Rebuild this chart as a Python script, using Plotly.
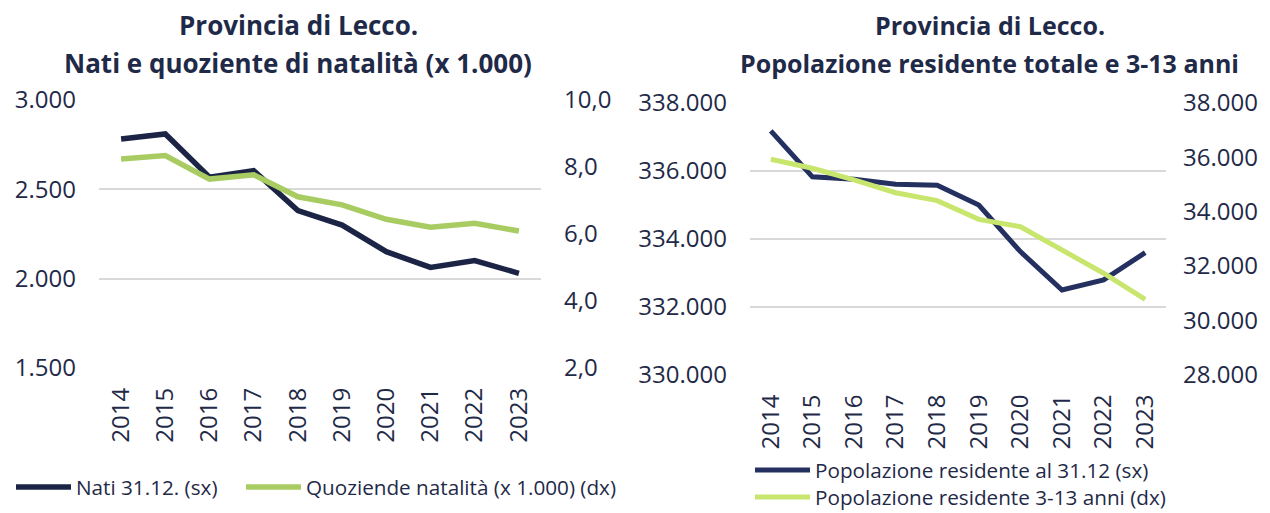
import plotly.graph_objects as go

years = ["2014", "2015", "2016", "2017", "2018", "2019", "2020", "2021", "2022", "2023"]
nati = [2782, 2810, 2568, 2605, 2381, 2300, 2151, 2063, 2101, 2030]
quoziente = [8.24, 8.34, 7.64, 7.77, 7.11, 6.87, 6.44, 6.20, 6.32, 6.09]
pop_tot = [337170, 335820, 335750, 335600, 335570, 334990, 333620, 332490, 332790, 333590]
pop_3_13 = [35920, 35590, 35160, 34690, 34400, 33710, 33440, 32590, 31730, 30770]

left_ticks = [1500, 2000, 2500, 3000]
left_ticktext = ["1.500", "2.000", "2.500", "3.000"]
left2_ticks = [2, 4, 6, 8, 10]
left2_ticktext = ["2,0", "4,0", "6,0", "8,0", "10,0"]
right_ticks = [330000, 332000, 334000, 336000, 338000]
right_ticktext = ["330.000", "332.000", "334.000", "336.000", "338.000"]
right2_ticks = [28000, 30000, 32000, 34000, 36000, 38000]
right2_ticktext = ["28.000", "30.000", "32.000", "34.000", "36.000", "38.000"]

NAVY = "#1b2445"
NAVY2 = "#243060"
GREEN1 = "#a8cc62"
GREEN2 = "#c8e66e"
TXT = "#1f2a48"
GRID = "#d9d9d9"
FONT = "Open Sans"
W, H = 1270, 513

fig = go.Figure()
fig.add_trace(go.Scatter(x=years, y=nati, name="Nati 31.12. (sx)", mode="lines",
                         line=dict(color=NAVY, width=5.5), xaxis="x", yaxis="y", legend="legend"))
fig.add_trace(go.Scatter(x=years, y=quoziente, name="Quoziende natalità (x 1.000) (dx)", mode="lines",
                         line=dict(color=GREEN1, width=5.5), xaxis="x", yaxis="y2", legend="legend3"))
fig.add_trace(go.Scatter(x=years, y=pop_tot, name="Popolazione residente al 31.12 (sx)", mode="lines",
                         line=dict(color=NAVY2, width=5), xaxis="x2", yaxis="y3", legend="legend2"))
fig.add_trace(go.Scatter(x=years, y=pop_3_13, name="Popolazione residente 3-13 anni (dx)", mode="lines",
                         line=dict(color=GREEN2, width=5), xaxis="x2", yaxis="y4", legend="legend4"))


def px_x(p):
    return p / W


def px_y(p):
    return 1 - p / H


tickfont = dict(family=FONT, size=24, color=TXT)
xfont = dict(family=FONT, size=24, color=TXT)

ld = [px_x(99), px_x(541)]
rd = [px_x(750), px_x(1166)]
lyd = [px_y(368), px_y(100)]
ryd = [px_y(374.7), px_y(102.7)]

common_y = dict(zeroline=False, showline=False, ticks="", automargin=False, tickfont=tickfont)
common_x = dict(type="category", range=[-0.5, 9.5], tickangle=-90, tickfont=xfont, showgrid=False,
                showline=False, ticks="", automargin=False, zeroline=False)

legfont = dict(family=FONT, size=20.7, color=TXT)
ITEMW = 55


def leg(line_start, ypx):
    return dict(x=px_x(line_start - 5), y=px_y(ypx), xanchor="left", yanchor="middle", orientation="h",
                font=legfont, bgcolor="rgba(0,0,0,0)", borderwidth=0, itemwidth=ITEMW)


fig.update_layout(
    width=W, height=H,
    margin=dict(l=0, r=0, t=0, b=0, autoexpand=False),
    paper_bgcolor="white", plot_bgcolor="white",
    font=dict(family=FONT, color=TXT),
    xaxis=dict(domain=ld, anchor="y", ticklabelstandoff=14, **common_x),
    yaxis=dict(domain=lyd, anchor="x", range=[1500, 3000], tickvals=left_ticks, ticktext=left_ticktext,
               showgrid=True, gridcolor=GRID, gridwidth=2, ticklabelstandoff=22, **common_y),
    yaxis2=dict(domain=lyd, anchor="x", overlaying="y", side="right", range=[2, 10],
                tickvals=left2_ticks, ticktext=left2_ticktext, showgrid=False, ticklabelstandoff=22, **common_y),
    xaxis2=dict(domain=rd, anchor="y3", ticklabelstandoff=14, **common_x),
    yaxis3=dict(domain=ryd, anchor="x2", range=[330000, 338000], tickvals=right_ticks, ticktext=right_ticktext,
                showgrid=True, gridcolor=GRID, gridwidth=2, ticklabelstandoff=22, **common_y),
    yaxis4=dict(domain=ryd, anchor="x2", overlaying="y3", side="right", range=[28000, 38000],
                tickvals=right2_ticks, ticktext=right2_ticktext, showgrid=False, ticklabelstandoff=16, **common_y),
    legend=leg(16, 487),
    legend3=leg(246, 487),
    legend2=leg(755, 470),
    legend4=leg(755, 497),
    showlegend=True,
)

for cx, size, lines in [(298, 26, ["Provincia di Lecco.", "Nati e quoziente di natalità (x 1.000)"]),
                        (990, 25, ["Provincia di Lecco.", "Popolazione residente totale e 3-13 anni"])]:
    for ty, t in zip([25, 63], lines):
        fig.add_annotation(x=px_x(cx), y=px_y(ty), xref="paper", yref="paper", showarrow=False,
                           text="<b>" + t + "</b>", font=dict(family=FONT, size=size, color=TXT),
                           xanchor="center", yanchor="middle")

fig.write_html("out.html", config={"displayModeBar": False},
               post_script="document.body.style.margin='0px';document.body.style.overflow='hidden';")
